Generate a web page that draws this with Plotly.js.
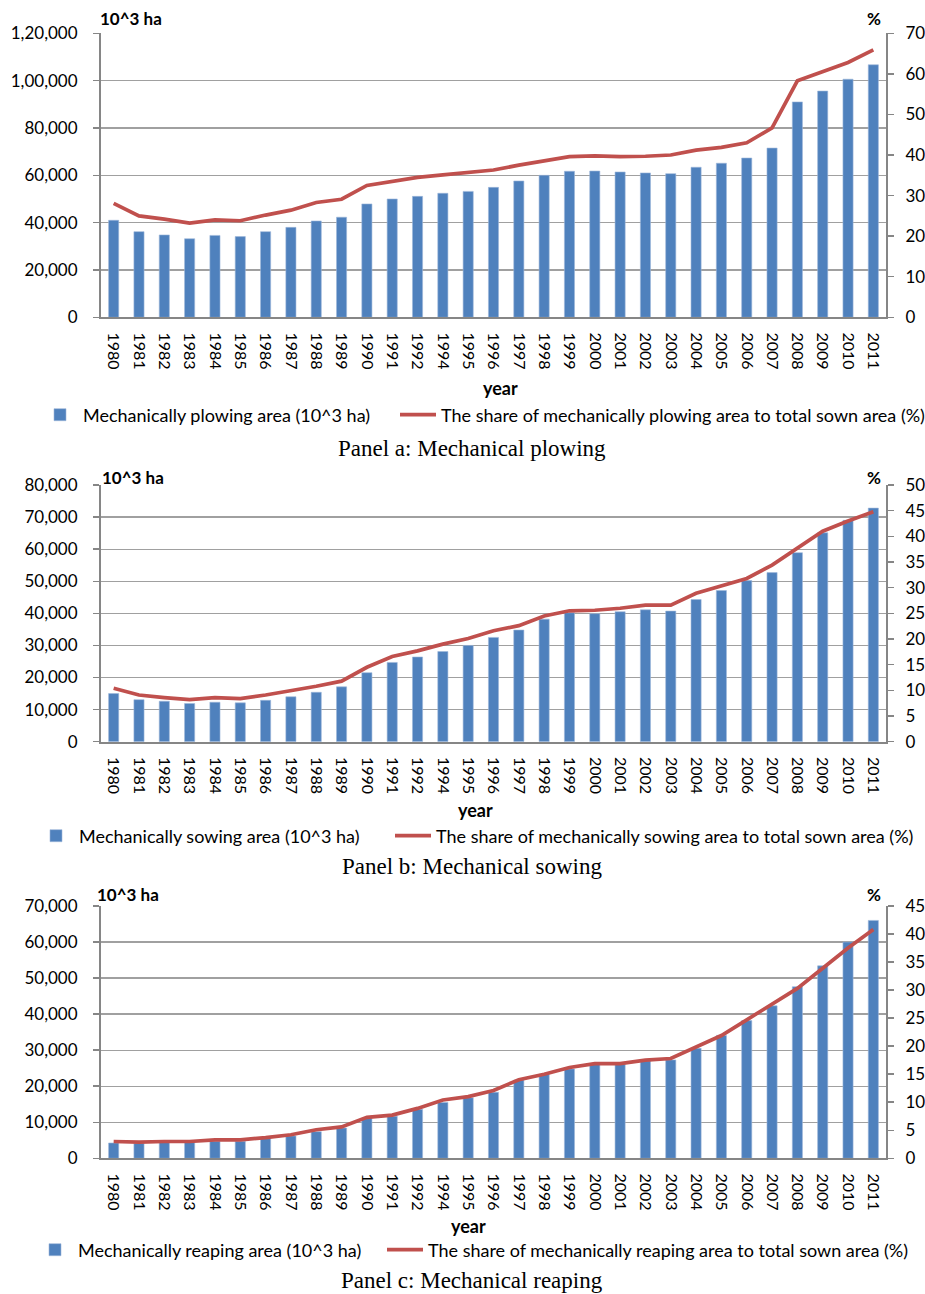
<!DOCTYPE html>
<html>
<head>
<meta charset="utf-8">
<script src="https://cdn.plot.ly/plotly-3.0.1.min.js"></script>
<style>
  html, body { margin: 0; padding: 0; background: #fff; overflow: hidden; }
  #chart { width: 925px; height: 1294px; }
</style>
</head>
<body>
<div id="chart"></div>
<script>
/* ---------------- DATA ---------------- */
const years = ["1980","1981","1982","1983","1984","1985","1986","1987","1988","1989","1990","1991","1992",
  "1994","1995","1996","1997","1998","1999","2000","2001","2002","2003","2004","2005","2006","2007","2008","2009","2010","2011"];

// panel a: plowing
const plowArea = [41000,36200,34800,33200,34600,34100,36200,38000,40700,42300,47900,50000,51100,
  52400,53200,54900,57600,60000,61700,61800,61400,61000,60700,63400,65100,67300,71500,91000,95600,100600,106700];
const plowShare = [28.1,25.0,24.2,23.2,24.0,23.8,25.2,26.4,28.3,29.1,32.5,33.6,34.5,
  35.1,35.6,36.3,37.5,38.5,39.6,39.8,39.6,39.7,40.0,41.2,41.9,43.0,46.7,58.3,60.5,62.8,65.9];

// panel b: sowing
const sowArea = [15000,13100,12600,11900,12300,12100,12900,14000,15400,17100,21500,24700,26400,
  28100,30000,32500,34800,38200,40200,39900,40500,41100,40700,44300,47100,50200,52700,58900,65100,69000,72800];
const sowShare = [10.4,9.1,8.6,8.2,8.6,8.4,9.1,9.9,10.8,11.8,14.5,16.6,17.7,
  19.0,20.1,21.6,22.6,24.5,25.5,25.6,26.0,26.6,26.6,28.9,30.4,31.8,34.4,37.7,41.0,43.0,44.8];

// panel c: reaping
const reapArea = [4250,4200,4400,4500,4700,4700,5500,6200,7400,8400,11200,11700,13600,
  15500,16800,18300,21700,23300,24800,26100,26100,27000,27300,30500,34100,38200,42300,47600,53400,60000,66000];
const reapShare = [3.0,2.9,3.0,3.0,3.3,3.3,3.7,4.2,5.1,5.6,7.3,7.7,8.9,
  10.4,11.0,12.1,14.0,15.0,16.2,16.9,16.9,17.5,17.8,19.8,21.9,24.7,27.5,30.3,33.9,37.5,40.8];

// left tick labels (panel a uses Indian digit grouping)
const plowTicks = [0,20000,40000,60000,80000,100000,120000];
const plowTickText = ["0","20,000","40,000","60,000","80,000","1,00,000","1,20,000"];

const barNames = ["Mechanically plowing area (10^3 ha)", "Mechanically sowing area (10^3 ha)", "Mechanically reaping area (10^3 ha)"];
const lineNames = ["The share of mechanically plowing area to total sown area (%)",
  "The share of mechanically sowing area to total sown area (%)",
  "The share of mechanically reaping area to total sown area (%)"];
const captions = ["Panel a: Mechanical plowing", "Panel b: Mechanical sowing", "Panel c: Mechanical reaping"];

/* ---------------- LAYOUT HELPERS ---------------- */
const W = 925, H = 1294;
const px = x => x / W;
const py = y => 1 - y / H;

const BLUE = "#4F81BD", RED = "#C0504D", AXIS = "#868686", GRID = "#A0A0A0";
const FONT = "Lato, 'Open Sans', sans-serif";

// pixel geometry of each panel
const panels = [
  { top: 33.3, bottom: 317.3, unitY: 18, yearX: 500, yearY: 388, barLegX: 37, lineLegX: 395, legY: 415, capY: 448, unitX: 98 },
  { top: 485, bottom: 741.7, unitY: 477, yearX: 476, yearY: 810, barLegX: 33, lineLegX: 390, legY: 836, capY: 866, unitX: 100 },
  { top: 906, bottom: 1158.3, unitY: 894, yearX: 468, yearY: 1226, barLegX: 32, lineLegX: 382, legY: 1250, capY: 1280, unitX: 95 }
];
const xDomain = [px(101), px(886)];

const areas = [plowArea, sowArea, reapArea];
const shares = [plowShare, sowShare, reapShare];
const leftRanges = [[0, 120000], [0, 80000], [0, 70000]];
const leftDtick = [20000, 10000, 10000];
const rightRanges = [[0, 70], [0, 50], [0, 45]];
const rightDtick = [10, 5, 5];

const traces = [];
const layout = {
  width: W, height: H,
  margin: { l: 0, r: 0, t: 0, b: 0, autoexpand: false },
  paper_bgcolor: "#fff", plot_bgcolor: "#fff",
  font: { family: FONT, size: 17, color: "#000" },
  showlegend: true,
  bargap: 0.6,
  annotations: []
};

function legendAt(x, y) {
  return {
    orientation: "h", x: px(x), xanchor: "left", y: py(y), yanchor: "middle",
    font: { size: 18 }, itemwidth: 36, bgcolor: "rgba(0,0,0,0)", visible: true
  };
}

for (let i = 0; i < 3; i++) {
  const n = i + 1;
  const xa = n === 1 ? "x" : "x" + n;
  const ya = n === 1 ? "y" : "y" + n;
  const yr = "y" + (n + 3);
  const barLeg = n === 1 ? "legend" : "legend" + (2 * n - 1);
  const lineLeg = "legend" + (2 * n);

  traces.push({
    type: "bar", x: years, y: areas[i], name: barNames[i],
    xaxis: xa, yaxis: ya, legend: barLeg, showlegend: true,
    marker: { color: BLUE, line: { color: "#9DB7DA", width: 0.6 } }
  });
  traces.push({
    type: "scatter", mode: "lines", x: years, y: shares[i], name: lineNames[i],
    xaxis: xa, yaxis: yr, legend: lineLeg, showlegend: true,
    line: { color: RED, width: 3.7 }
  });

  const p = panels[i];
  const yDomain = [py(p.bottom), py(p.top)];

  layout[n === 1 ? "xaxis" : "xaxis" + n] = {
    domain: xDomain, anchor: ya, type: "category",
    showline: true, linecolor: AXIS, linewidth: 2,
    showgrid: false, ticks: "", tickangle: 90,
    tickfont: { size: 16 }, ticklabelstandoff: 10,
    fixedrange: true
  };

  const left = {
    domain: yDomain, anchor: xa, range: leftRanges[i],
    showline: true, linecolor: AXIS, linewidth: 2,
    showgrid: true, gridcolor: GRID, gridwidth: 1.3,
    zeroline: false, ticks: "outside", ticklen: 6, tickcolor: AXIS, tickwidth: 1.5,
    ticklabelstandoff: 12, tickfont: { size: 17 },
    fixedrange: true
  };
  if (i === 0) {
    left.tickmode = "array"; left.tickvals = plowTicks; left.ticktext = plowTickText;
  } else {
    left.dtick = leftDtick[i]; left.tickformat = ",";
  }
  layout[n === 1 ? "yaxis" : "yaxis" + n] = left;

  layout["yaxis" + (n + 3)] = {
    overlaying: ya, side: "right", anchor: xa, range: rightRanges[i], dtick: rightDtick[i],
    showline: true, linecolor: AXIS, linewidth: 2,
    showgrid: false, zeroline: false,
    ticks: "outside", ticklen: 6, tickcolor: AXIS, tickwidth: 1.5,
    ticklabelstandoff: 8, tickfont: { size: 17 },
    fixedrange: true
  };

  layout[barLeg] = legendAt(p.barLegX, p.legY);
  layout[lineLeg] = legendAt(p.lineLegX, p.legY);

  layout.annotations.push(
    { xref: "paper", yref: "paper", x: px(p.unitX), y: py(p.unitY), xanchor: "left", yanchor: "middle",
      text: "<b>10^3 ha</b>", showarrow: false, font: { size: 17 } },
    { xref: "paper", yref: "paper", x: px(874), y: py(p.unitY), xanchor: "center", yanchor: "middle",
      text: "<b>%</b>", showarrow: false, font: { size: 17 } },
    { xref: "paper", yref: "paper", x: px(p.yearX), y: py(p.yearY), xanchor: "center", yanchor: "middle",
      text: "<b>year</b>", showarrow: false, font: { size: 18 } },
    { xref: "paper", yref: "paper", x: px(472), y: py(p.capY), xanchor: "center", yanchor: "middle",
      text: captions[i], showarrow: false,
      font: { family: "'Liberation Serif', 'Times New Roman', serif", size: 23 } }
  );
}

Plotly.newPlot("chart", traces, layout, { displayModeBar: false, staticPlot: true });
</script>
</body>
</html>
